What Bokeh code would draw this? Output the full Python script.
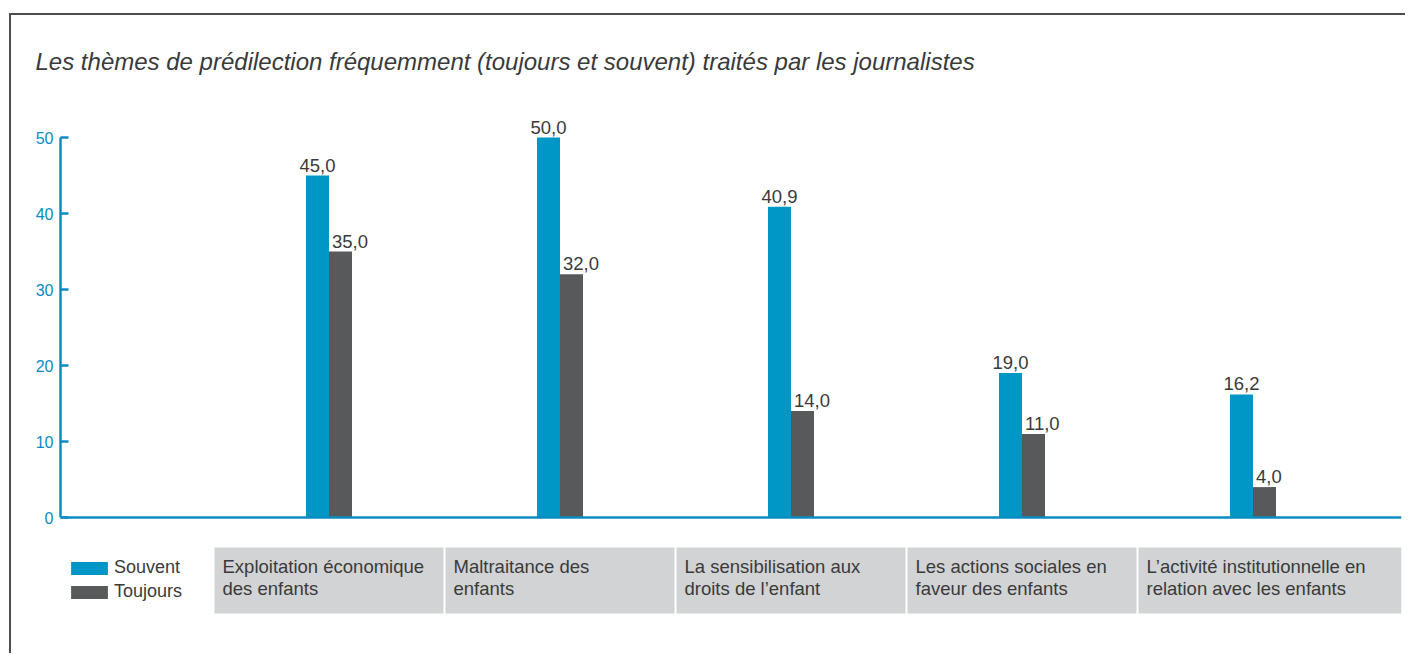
from bokeh.plotting import figure
from bokeh.models import Range1d, Span, Legend, LegendItem, ColumnDataSource
from bokeh.core.properties import value
from bokeh.embed import file_html
from bokeh.resources import INLINE

# ---------------- data ----------------
categories = [
    "Exploitation économique\ndes enfants",
    "Maltraitance des\nenfants",
    "La sensibilisation aux\ndroits de l’enfant",
    "Les actions sociales en\nfaveur des enfants",
    "L’activité institutionnelle en\nrelation avec les enfants",
]
souvent = [45.0, 50.0, 40.9, 19.0, 16.2]
toujours = [35.0, 32.0, 14.0, 11.0, 4.0]
series_names = ["Souvent", "Toujours"]
y_ticks = [0, 10, 20, 30, 40, 50]
title_text = "Les thèmes de prédilection fréquemment (toujours et souvent) traités par les journalistes"

# ---------------- layout (pixels) ----------------
W, H = 1396, 640
OX, OY = 11, 15            # canvas origin in page coordinates
FRAME_L = 60 - OX
FRAME_R = 1401 - OX
FRAME_T = 100 - OY
FRAME_B = 630 - OY
frame_w = FRAME_R - FRAME_L

PX_Y = 7.6                  # pixels per y unit
Y0 = 517 - OY               # canvas y of value 0
y_start = -(FRAME_B - Y0) / PX_Y
y_end = (Y0 - FRAME_T) / PX_Y

PX_X = 231.0                # pixels per category
X1 = 328.5 - OX             # canvas x of first category
x_start = 1 - (X1 - FRAME_L) / PX_X
x_end = x_start + frame_w / PX_X
BAR_W = 23 / PX_X
GAP = 1 / PX_X

BLUE = "#0096c6"
AXIS_BLUE = "#0a8cc2"
GREY = "#58595b"
TEXT = "#3a3a3a"
BOX = "#d1d3d4"
FONT = "Liberation Sans"

xs = [i + 1 for i in range(len(categories))]
box_l = [x - 0.5 + GAP for x in xs]
box_r = [l - 2 * GAP for l in box_l[1:]] + [x_end]

src = ColumnDataSource(dict(
    x_s=[x - BAR_W / 2 for x in xs],
    x_t=[x + BAR_W / 2 for x in xs],
    x_c=xs,
    souvent=souvent,
    toujours=toujours,
    lab_s=[f"{v:.1f}".replace(".", ",") for v in souvent],
    lab_t=[f"{v:.1f}".replace(".", ",") for v in toujours],
    box_l=box_l,
    box_r=box_r,
    cat=categories,
))

p = figure(width=W, height=H, output_backend="svg", toolbar_location=None,
           x_range=Range1d(x_start, x_end), y_range=Range1d(y_start, y_end),
           x_axis_location=None,
           min_border_left=FRAME_L, min_border_right=W - FRAME_R,
           min_border_top=FRAME_T, min_border_bottom=H - FRAME_B,
           styles={"margin-left": "9px", "margin-top": "13px",
                   "border-left": "2px solid #4d4d4f", "border-top": "2px solid #4d4d4f"})
p.outline_line_color = None
p.grid.visible = False
p.background_fill_color = "white"

# title
p.title.text = title_text
p.title.text_font = FONT
p.title.text_font_style = "italic"
p.title.text_font_size = "24px"
p.title.text_color = TEXT
p.title.align = "left"
p.title.offset = -25
p.title.standoff = 51

# bars
r_s = p.vbar(x="x_s", top="souvent", width=BAR_W, bottom=0, source=src,
             fill_color=BLUE, line_color=None)
r_t = p.vbar(x="x_t", top="toujours", width=BAR_W, bottom=0, source=src,
             fill_color=GREY, line_color=None)

# value labels
p.text(x="x_s", y="souvent", text="lab_s", source=src, text_align="center",
       text_baseline="bottom", y_offset=-4, text_font=value(FONT),
       text_font_size="18.5px", text_color=TEXT)
p.text(x="x_c", y="toujours", text="lab_t", source=src, text_align="left",
       text_baseline="bottom", x_offset=3, y_offset=-4, text_font=value(FONT),
       text_font_size="18.5px", text_color=TEXT)

# category boxes
box_top = -(547 - 517) / PX_Y
box_bot = -(613 - 517) / PX_Y
p.quad(left="box_l", right="box_r", top=box_top, bottom=box_bot, source=src,
       fill_color=BOX, line_color=None)
p.text(x="box_l", y=box_top, text="cat", source=src, x_offset=8, y_offset=8,
       text_align="left", text_baseline="top", text_font=value(FONT),
       text_font_size="18.5px", text_color=TEXT, text_line_height=1.065)

# baseline (value 0)
p.add_layout(Span(location=0, dimension="width", line_color=AXIS_BLUE, line_width=2.5))

# y axis
ax = p.yaxis[0]
ax.ticker = y_ticks
ax.bounds = (0, 50)
ax.axis_line_color = AXIS_BLUE
ax.axis_line_width = 2.5
ax.major_tick_line_color = AXIS_BLUE
ax.major_tick_line_width = 2.5
ax.major_tick_in = 8
ax.major_tick_out = 0
ax.minor_tick_line_color = None
ax.major_label_text_color = AXIS_BLUE
ax.major_label_text_font = FONT
ax.major_label_text_font_size = "16px"
ax.major_label_standoff = 7

# legend (area legend glyphs are inset by 10% on each side)
legend = Legend(items=[LegendItem(label=series_names[0], renderers=[r_s]),
                       LegendItem(label=series_names[1], renderers=[r_t])],
                location=(6, 28), orientation="vertical",
                glyph_width=46, glyph_height=16, label_standoff=2,
                label_text_font=FONT, label_text_font_size="18px",
                label_text_color=TEXT, label_height=20, spacing=3,
                padding=0, margin=0, border_line_color=None,
                background_fill_alpha=0)
p.add_layout(legend)

open("out.html", "w").write(file_html(p, INLINE))
